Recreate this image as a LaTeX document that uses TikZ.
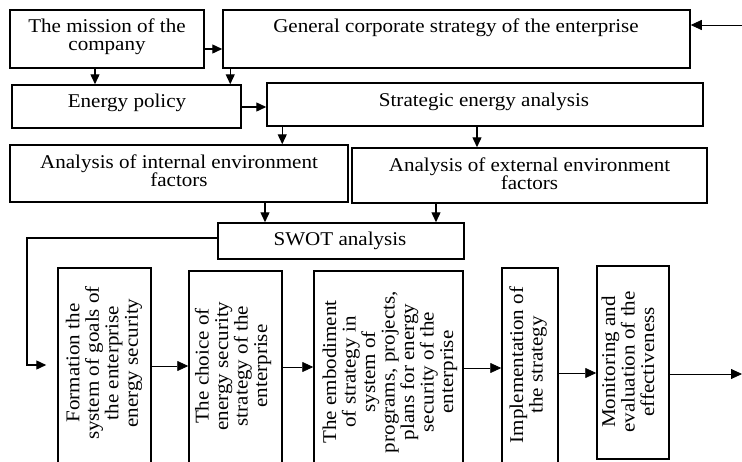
\documentclass[tikz,border=0pt]{standalone}
\usepackage{fontspec}
\setmainfont{Liberation Serif}[FakeStretch=1.08]
\usetikzlibrary{arrows.meta}
\begin{document}
\begin{tikzpicture}[x=1pt,y=-1pt,
  box/.style={draw, line width=1.5pt, inner sep=0pt, fill=none},
  txt/.style={inner sep=0pt, align=center, font=\fontsize{19.5}{18}\selectfont},
  rtxt/.style={inner sep=0pt, align=center, rotate=90, font=\fontsize{19.5}{19.5}\selectfont},
  arr/.style={line width=1.4pt, -{Triangle[length=10pt,width=9pt]}},
  tarr/.style={line width=0.8pt, -{Triangle[length=11pt,width=10pt]}}]
\useasboundingbox (0,0) rectangle (742,461);
\fill[white] (0,0) rectangle (742,461);
\clip (0,0) rectangle (742,461);
% boxes
\node[box, minimum width=194pt, minimum height=58pt] (mission) at (107,39) {};
\node[box, minimum width=467pt, minimum height=58pt] (general) at (456.5,39) {};
\node[box, minimum width=229pt, minimum height=43pt] (ep) at (126.5,106.5) {};
\node[box, minimum width=436pt, minimum height=43pt] (sea) at (485,104.5) {};
\node[box, minimum width=338pt, minimum height=57pt] (int) at (179,173.5) {};
\node[box, minimum width=355pt, minimum height=55pt] (ext) at (529.5,175.5) {};
\node[box, minimum width=246pt, minimum height=36pt] (swot) at (341,241) {};
\node[box, minimum width=93pt, minimum height=196pt] (b1) at (104.5,366) {};
\node[box, minimum width=93pt, minimum height=193pt] (b2) at (235.5,367.5) {};
\node[box, minimum width=149pt, minimum height=193pt] (b3) at (388.5,367.5) {};
\node[box, minimum width=56pt, minimum height=196pt] (b4) at (530,366) {};
\node[box, minimum width=72pt, minimum height=193pt] (b5) at (633,362.5) {};
% texts
\node[txt] (mt) at (107,37) {The mission of the\\company};
\node[txt] (gt) at (456,28) {General corporate strategy of the enterprise};
\node[txt] (ept) at (127,103) {Energy policy};
\node[txt] (seat) at (484,102) {Strategic energy analysis};
\node[txt] (intt) at (179,171) {Analysis of internal environment\\factors};
\node[txt] (extt) at (529.5,174) {Analysis of external environment\\factors};
\node[txt] (swott) at (340,240.5) {SWOT analysis};
\node[rtxt] (t1) at (104,363) {Formation the\\system of goals of\\the enterprise\\energy security};
\node[rtxt] (t2) at (233,366) {The choice of\\energy security\\strategy of the\\enterprise};
\node[rtxt] (t3) at (390,372) {The embodiment\\of strategy in\\system of\\programs, projects,\\plans for energy\\security of the\\enterprise};
\node[rtxt] (t4) at (528,365) {Implementation of\\the strategy};
\node[rtxt] (t5) at (628,362) {Monitoring and\\evaluation of the\\effectiveness};
% upper connectors
\draw[arr] ([yshift=-10pt]mission.east) -- ([yshift=-10pt]mission.east -| general.west);
\draw[arr] ([xshift=-12pt]mission.south) -- ([xshift=-12pt]mission.south |- ep.north);
\draw[arr] ([xshift=8pt]general.south west) -- ([xshift=8pt]general.south west |- ep.north);
\draw[arr] ([yshift=-0.5pt]ep.east) -- ([yshift=-0.5pt]ep.east -| sea.west);
\draw[arr] ([xshift=16pt]sea.south west) -- ([xshift=16pt]sea.south west |- int.north);
\draw[arr] ([xshift=-8pt]sea.south) -- ([xshift=-8pt]sea.south |- ext.north);
\draw[arr] ([xshift=86pt]int.south) -- ([xshift=86pt]int.south |- swot.north);
\draw[arr] ([xshift=-93.5pt]ext.south) -- ([xshift=-93.5pt]ext.south |- swot.north);
\coordinate (src) at (742,25);
\draw[tarr] (src) -- (src -| general.east);
\coordinate (fb) at (27,365);
\draw[arr, shorten >=11pt] ([yshift=3pt]swot.west) -| (fb) -- (fb -| b1.west);
% lower connectors
\draw[tarr] (b1.east) -- (b1.east -| b2.west);
\draw[tarr] ([yshift=0.5pt]b2.east) -- ([yshift=0.5pt]b2.east -| b3.west);
\draw[tarr] ([yshift=-0.5pt]b3.east) -- ([yshift=-0.5pt]b3.east -| b4.west);
\draw[tarr] ([yshift=-7pt]b4.east) -- ([yshift=-7pt]b4.east -| b5.west);
\coordinate (outp) at (742,374);
\draw[tarr] (b5.east |- outp) -- (outp);
\end{tikzpicture}
\end{document}
